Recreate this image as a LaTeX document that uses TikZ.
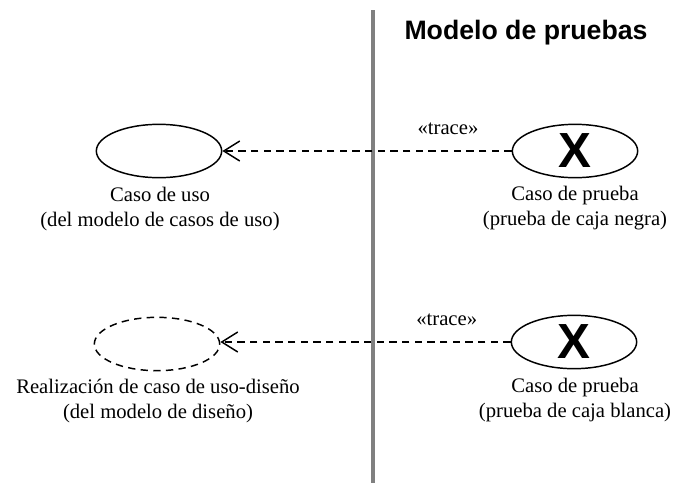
\documentclass[tikz,border=0pt]{standalone}
\usepackage{fontspec}
\setmainfont{Liberation Serif}
\setsansfont{Liberation Sans}
\usetikzlibrary{arrows.meta}
\usetikzlibrary{shapes.geometric}

\tikzset{
	caso/.style = {ellipse, draw, line width=1.1pt, inner sep=0pt,
		minimum width=94pt, minimum height=40pt},
	equis/.style = {text depth=0pt, font=\sffamily\bfseries\fontsize{37}{37}\selectfont},
	traza/.style = {line width=1.1pt, dash pattern=on 5.5pt off 4pt,
		-{Straight Barb[length=12pt, width=15pt, line width=1.1pt]}},
	rotulo/.style = {align=center, font=\fontsize{15.5}{19}\selectfont},
}

\begin{document}
\begin{tikzpicture}[x=0.75pt, y=-0.75pt]

		\useasboundingbox (0,0) rectangle (679,483);

		\draw [line width=3pt, gray] (373,10) -- (373,483);
		\node [font=\sffamily\bfseries\fontsize{20}{24}\selectfont] (titulo) at (526,33) {Modelo de pruebas};

		\node [caso] (CU) at (159,151) {};
		\node [caso, equis] (PN) at (575,151) {X};
		\node [caso, dash pattern=on 5.5pt off 4pt] (RD) at (157,344) {};
		\node [caso, equis] (PB) at (574,342) {X};

		\node [rotulo] (lCU) at (160,209) {Caso de uso\\(del modelo de casos de uso)};
		\node [rotulo] (lPN) at (575,208) {Caso de prueba\\(prueba de caja negra)};
		\node [rotulo] (lRD) at (158,401) {Realización de caso de uso-diseño\\(del modelo de diseño)};
		\node [rotulo] (lPB) at (575,400) {Caso de prueba\\(prueba de caja blanca)};

		\draw [traza] (PN) -- (CU) node [pos=0.22, above=8pt, rotulo] (t1) {«trace»};
		\draw [traza] (PB.west) -- (RD.east |- PB.west) node [pos=0.22, above=8pt, rotulo] (t2) {«trace»};

\end{tikzpicture}
\end{document}
